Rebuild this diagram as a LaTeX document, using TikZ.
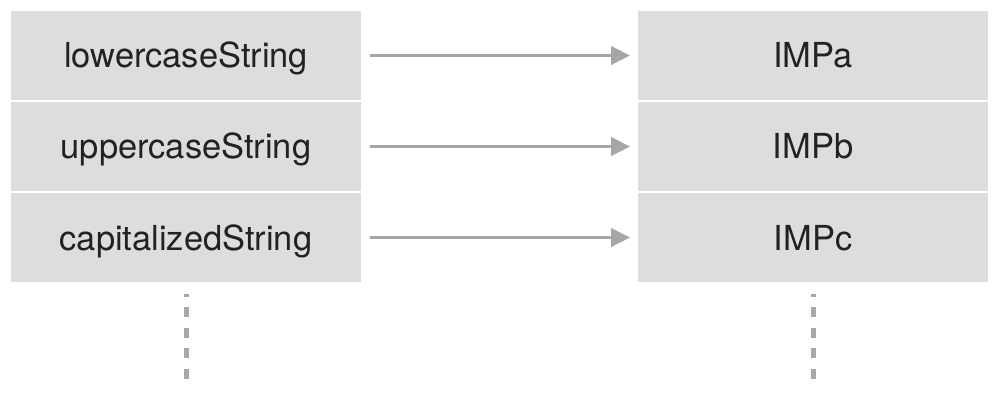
\documentclass[tikz,border=0pt]{standalone}
\usepackage{fontspec}
\setmainfont{TeX Gyre Heros}
\usetikzlibrary{arrows.meta,positioning}
\definecolor{selfill}{HTML}{DCDDDF}
\definecolor{selarrow}{HTML}{A6A6A6}
\definecolor{seldots}{HTML}{A8A8A8}
\definecolor{selink}{HTML}{222222}
\tikzset{
  sel/.style={font=\fontsize{9.8pt}{12pt}\selectfont, text=selink},
  selbox/.style={fill=selfill, draw=none, minimum width=3.5cm, minimum height=0.89cm,
    inner sep=0pt, outer sep=0pt, text height=7.4pt, text depth=0.3pt},
  selarr/.style={-{Triangle[length=5.4pt,width=5.2pt]}, line width=0.95pt, draw=selarrow,
    shorten <=0.09cm, shorten >=0.08cm},
  seldash/.style={line width=1.42pt, draw=seldots, dash pattern=on 0.1cm off 0.105cm,
    dash phase=0.075cm},
}
\begin{document}
\begin{tikzpicture}[sel, node distance=0.02cm and 2.77cm]
  \useasboundingbox (0,0) rectangle (10,-4);
  % selectors
  \node[selbox, anchor=north west] (lower) at (0.11,-0.11) {lowercaseString};
  \node[selbox, below=of lower] (upper) {uppercaseString};
  \node[selbox, below=of upper] (capit) {capitalizedString};
  % implementations
  \node[selbox, right=of lower] (impa) {IMPa};
  \node[selbox, right=of upper] (impb) {IMPb};
  \node[selbox, right=of capit] (impc) {IMPc};
  \draw[selarr] (lower.east) -- (impa.west);
  \draw[selarr] (upper.east) -- (impb.west);
  \draw[selarr] (capit.east) -- (impc.west);
  % more entries
  \coordinate (dotsl) at ([yshift=-0.97cm]capit.south);
  \coordinate (dotsr) at ([yshift=-0.97cm]impc.south);
  \draw[seldash] ([yshift=-0.12cm]capit.south) -- (dotsl);
  \draw[seldash] ([yshift=-0.12cm]impc.south) -- (dotsr);
\end{tikzpicture}
\end{document}
